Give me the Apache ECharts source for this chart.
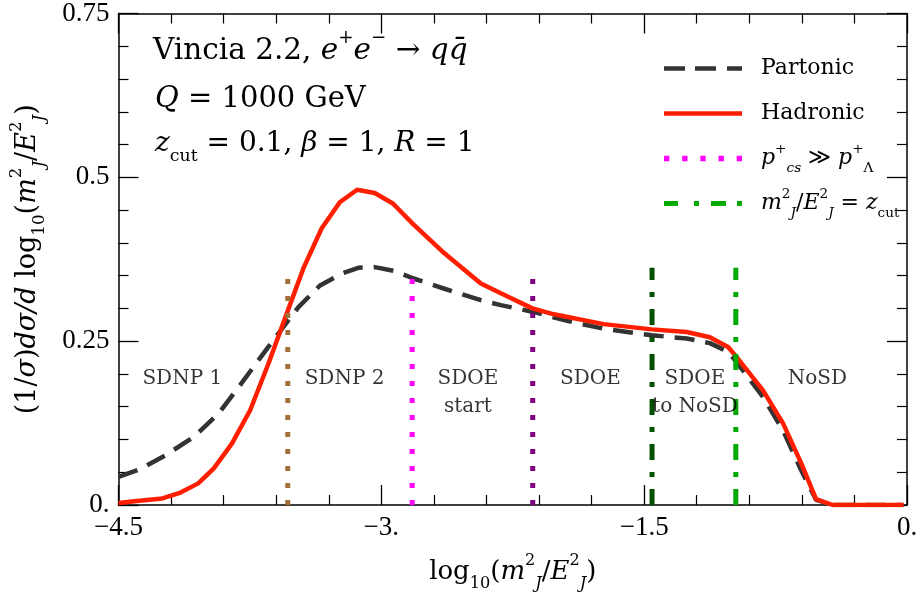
<!DOCTYPE html>
<html><head><meta charset="utf-8">
<script src="https://cdn.jsdelivr.net/npm/echarts@6/dist/echarts.min.js"></script>
<style>html,body{margin:0;padding:0;background:#fff}#c{width:923px;height:598px}</style>
</head><body><div id="c"></div>
<script>
// ---- data ----
const hadX = [-4.5, -4.382, -4.25, -4.146, -4.045, -3.956, -3.852, -3.748, -3.644, -3.540, -3.445, -3.341, -3.237, -3.138, -3.038, -2.934, -2.820, -2.640, -2.432, -2.318, -2.138, -2.015, -1.731, -1.456, -1.257, -1.125, -1.021, -0.973, -0.822, -0.708, -0.604, -0.519, -0.424, -0.3, -0.2, -0.1, -0.02];
const hadY = [0.003, 0.0066, 0.010, 0.019, 0.033, 0.056, 0.094, 0.145, 0.216, 0.292, 0.361, 0.422, 0.462, 0.481, 0.476, 0.460, 0.429, 0.384, 0.338, 0.323, 0.300, 0.291, 0.276, 0.268, 0.264, 0.256, 0.241, 0.226, 0.175, 0.125, 0.064, 0.009, 0.0, 0.0, 0.0, 0.0, 0.0];
const partX = [-4.5, -4.382, -4.231, -4.070, -3.928, -3.814, -3.701, -3.587, -3.473, -3.350, -3.227, -3.132, -3.038, -2.924, -2.820, -2.640, -2.432, -2.318, -2.138, -1.939, -1.731, -1.456, -1.257, -1.125, -1.021, -0.973, -0.822, -0.708, -0.604, -0.519, -0.424, -0.3, -0.2, -0.1, -0.02];
const partY = [0.043, 0.054, 0.076, 0.104, 0.140, 0.180, 0.221, 0.262, 0.302, 0.335, 0.353, 0.362, 0.363, 0.357, 0.346, 0.330, 0.3125, 0.305, 0.295, 0.281, 0.269, 0.259, 0.254, 0.247, 0.234, 0.218, 0.165, 0.114, 0.053, 0.008, 0.0, 0.0, 0.0, 0.0, 0.0];
const cutX = [-3.534, -2.824, -2.136, -1.455, -0.977];
const cutTop = 0.362;
const regionNames = ['SDNP 1', 'SDNP 2', 'SDOE\nstart', 'SDOE', 'SDOE\nto NoSD', 'NoSD'];
const regionX = [-4.136, -3.210, -2.506, -1.807, -1.210, -0.511];
const regionY = [0.192, 0.192, 0.171, 0.192, 0.171, 0.192];
const xTicks = {'-4.5': '\u22124.5', '-3': '\u22123.', '-1.5': '\u22121.5', '0': '0.'};
const yTicks = {'0': '0.', '0.25': '0.25', '0.5': '0.5', '0.75': '0.75'};

// ---- styles ----
const CM = 'DejaVu Serif';
const TM = 'Liberation Serif';
const cutColors = ['#a0703a', '#ff00ff', '#800080', '#005000', '#00aa00'];
const cutDash = [[5, 12], [5, 12], [5, 12], [16, 12, 5, 12], [16, 12, 5, 12]];
const cutNames = ['brown', 'p_cs', 'purple', 'darkgreen', 'z_cut'];
const legendIcons = {
  'Partonic': 'path://M0,0h21v4.5h-21z M31,0h21v4.5h-21z M63,0h15v4.5h-15z',
  'Hadronic': 'path://M0,0h78v4.5h-78z',
  'p_cs': 'path://M0,0h5v5h-5z M17,0h5v5h-5z M34,0h5v5h-5z M51,0h5v5h-5z M68,0h5v5h-5z',
  'z_cut': 'path://M0,0h14v5h-14z M30,0h5v5h-5z M47,0h15v5h-15z M73,0h5v5h-5z'
};

const chart = echarts.init(document.getElementById('c'));

function axisCommon(showLabel) {
  return {
    axisLine: {show: true, lineStyle: {color: '#000', width: 1.5}},
    axisTick: {show: true, inside: true, length: 20, lineStyle: {color: '#000', width: 1.3}},
    minorTick: {show: true, splitNumber: 5, length: 10, lineStyle: {color: '#000', width: 1.2}},
    splitLine: {show: false},
    axisLabel: {show: showLabel, fontFamily: TM, fontSize: 27, color: '#000', margin: 9}
  };
}

const mathRich = (fs, color) => ({
  n: {fontFamily: CM, fontSize: fs, color: color, lineHeight: fs * 1.5},
  i: {fontFamily: CM, fontSize: fs, fontStyle: 'italic', color: color, lineHeight: fs * 1.5},
  sup: {fontFamily: CM, fontSize: fs * 0.62, color: color, verticalAlign: 'top', lineHeight: fs * 0.8},
  sub: {fontFamily: CM, fontSize: fs * 0.62, color: color, verticalAlign: 'bottom', lineHeight: fs * 0.8},
  isub: {fontFamily: CM, fontSize: fs * 0.62, fontStyle: 'italic', color: color, verticalAlign: 'bottom', lineHeight: fs * 0.8}
});

const gRich = (fs) => {
  const r = mathRich(fs, '#000');
  const o = {};
  for (const k in r) { const v = Object.assign({}, r[k]); v.fill = v.color; delete v.color; o[k] = v; }
  return o;
};

const legendLabels = {
  'Partonic': '{n|Partonic}{sup| }{sub| }',
  'Hadronic': '{n|Hadronic}{sup| }{sub| }',
  'p_cs': '{i|p}{sup|+}{isub|cs}{n| \u226B }{i|p}{sup|+}{sub|\u039B}',
  'z_cut': '{i|m}{sup|2}{isub|J}{n|/}{i|E}{sup|2}{isub|J}{n| = }{i|z}{sub|cut}'
};

const series = [];
series.push({
  name: 'Partonic', type: 'line', symbol: 'none', z: 3,
  data: partX.map((x, i) => [x, partY[i]]),
  lineStyle: {color: '#333333', width: 4.5, type: [20, 11]},
  itemStyle: {color: '#333333'}
});
series.push({
  name: 'Hadronic', type: 'line', symbol: 'none', z: 4,
  data: hadX.map((x, i) => [x, hadY[i]]),
  lineStyle: {color: '#ff1f00', width: 4.5},
  itemStyle: {color: '#ff1f00'}
});
cutX.forEach((x, k) => {
  series.push({
    name: cutNames[k], type: 'line', symbol: 'none', z: 5,
    data: [[x, 0], [x, cutTop]],
    lineStyle: {color: cutColors[k], width: 5, type: cutDash[k], cap: 'butt'},
    itemStyle: {color: cutColors[k]}
  });
});
series.push({
  name: 'regions', type: 'scatter', symbolSize: 1, silent: true, z: 6,
  itemStyle: {color: 'rgba(255,255,255,0)'},
  data: regionX.map((x, i) => [x, regionY[i]]),
  label: {
    show: true, position: 'inside', color: '#000', fontFamily: CM, fontSize: 20, lineHeight: 28, align: 'center',
    formatter: p => regionNames[p.dataIndex]
  }
});

const xBottom = axisCommon(true);
const xTop = axisCommon(false); xTop.axisLine.onZero = false;
const yLeft = axisCommon(true); yLeft.axisLine.onZero = false;
const yRight = axisCommon(false); yRight.axisLine.onZero = false;

const option = {
  backgroundColor: '#fff',
  animation: false,
  grid: {left: 116, right: 16, top: 13, bottom: 93},
  xAxis: [
    Object.assign(xBottom, {
      type: 'value', min: -4.5, max: 0, interval: 1.5, position: 'bottom',
      name: '{n|log}{sub|10}{n|(}{i|m}{sup|2}{isub|J}{n|/}{i|E}{sup|2}{isub|J}{n|)}',
      nameLocation: 'middle', nameGap: 48,
      nameTextStyle: {rich: mathRich(26, '#000')}
    }),
    Object.assign(xTop, {type: 'value', min: -4.5, max: 0, interval: 1.5, position: 'top'})
  ],
  yAxis: [
    Object.assign(yLeft, {
      type: 'value', min: 0, max: 0.75, interval: 0.25, position: 'left',
      name: '{n|(1/}{i|\u03C3}{n|)}{i|d\u03C3/d}{n| log}{sub|10}{n|(}{i|m}{sup|2}{isub|J}{n|/}{i|E}{sup|2}{isub|J}{n|)}',
      nameLocation: 'middle', nameGap: 70, nameRotate: 90,
      nameTextStyle: {rich: mathRich(27, '#000')}
    }),
    Object.assign(yRight, {type: 'value', min: 0, max: 0.75, interval: 0.25, position: 'right'})
  ],
  legend: {
    data: ['Partonic', 'Hadronic', 'p_cs', 'z_cut'].map(n => ({name: n, icon: legendIcons[n]})),
    orient: 'vertical', left: 659, top: 47,
    itemWidth: 78, itemHeight: 14, itemGap: 12,
    formatter: name => legendLabels[name],
    textStyle: {color: '#000', fontFamily: CM, fontSize: 22, padding: [0, 0, 0, 14], rich: mathRich(22, '#000')},
    selectedMode: false
  },
  graphic: [
    {type: 'text', left: 153, top: 29, silent: true,
      style: {text: '{n|Vincia 2.2, }{i|e}{sup|+}{i|e}{sup|\u2212}{n| \u2192 }{i|q}{i|q\u0304}', rich: gRich(29.5)}},
    {type: 'text', left: 155, top: 85, silent: true,
      style: {text: '{i|Q}{n| = 1000 GeV}', rich: gRich(29)}},
    {type: 'text', left: 155, top: 130, silent: true,
      style: {text: '{i|z}{sub|cut}{n| = 0.1, }{i|\u03B2}{n| = 1, }{i|R}{n| = 1}', rich: gRich(28)}}
  ],
  series: series
};
option.xAxis[0].axisLabel.formatter = v => xTicks[String(v)] !== undefined ? xTicks[String(v)] : '';
option.yAxis[0].axisLabel.formatter = v => yTicks[String(v)] !== undefined ? yTicks[String(v)] : '';
chart.setOption(option);
</script></body></html>
